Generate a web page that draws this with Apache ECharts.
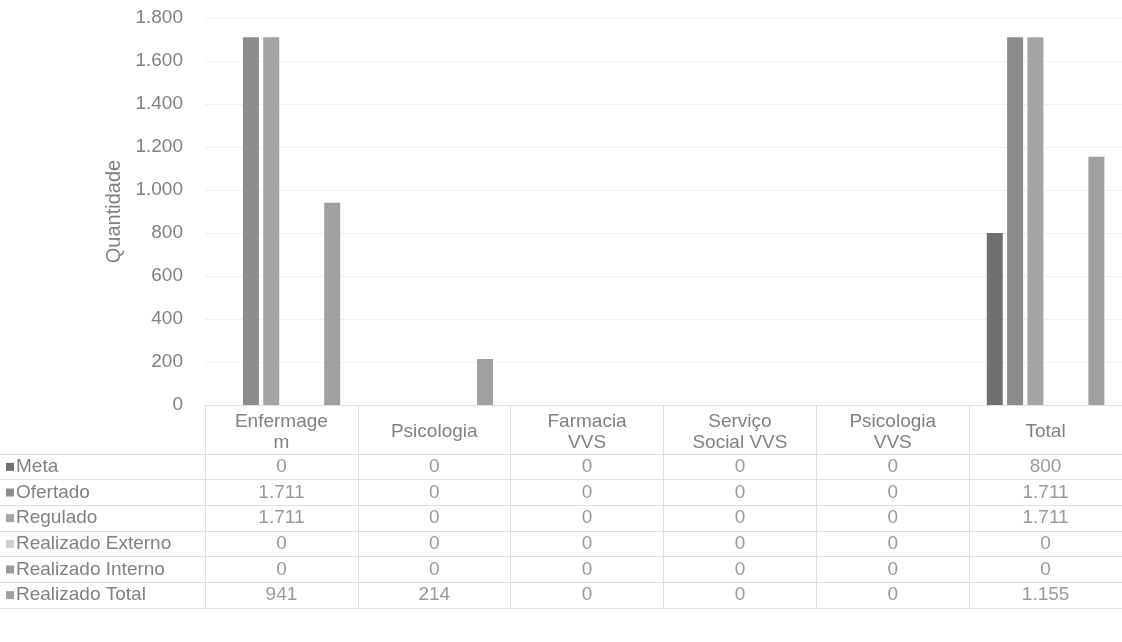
<!DOCTYPE html>
<html>
<head>
<meta charset="utf-8">
<script src="https://cdn.jsdelivr.net/npm/echarts@6/dist/echarts.min.js"></script>
<style>
html,body{margin:0;padding:0;background:#fff;}
#chart{width:1122px;height:642px;}
</style>
</head>
<body>
<div id="chart"></div>
<script>
// ---- data ----
const categories = ['Enfermagem', 'Psicologia', 'Farmacia VVS', 'Serviço Social VVS', 'Psicologia VVS', 'Total'];
const headerLabels = ['Enfermage\nm', 'Psicologia', 'Farmacia\nVVS', 'Serviço\nSocial VVS', 'Psicologia\nVVS', 'Total'];
const seriesNames = ['Meta', 'Ofertado', 'Regulado', 'Realizado Externo', 'Realizado Interno', 'Realizado Total'];
const meta = [0, 0, 0, 0, 0, 800];
const ofertado = [1711, 0, 0, 0, 0, 1711];
const regulado = [1711, 0, 0, 0, 0, 1711];
const realizadoExterno = [0, 0, 0, 0, 0, 0];
const realizadoInterno = [0, 0, 0, 0, 0, 0];
const realizadoTotal = [941, 214, 0, 0, 0, 1155];
const yMin = 0, yMax = 1800, yStep = 200;
const yTitle = 'Quantidade';

const seriesValues = [meta, ofertado, regulado, realizadoExterno, realizadoInterno, realizadoTotal];
const colors = ['#707070', '#8c8c8c', '#a4a4a4', '#cfcfcf', '#999999', '#a0a0a0'];

function fmt(n) {
  return String(n).replace(/\B(?=(\d{3})+(?!\d))/g, '.');
}

const FONT = 'Liberation Sans, Arial, sans-serif';
const TXT = '#818181';
const BORDER = '#e0e0e0';
const FS = 19;
const GRID_LEFT = 205, GRID_W = 924;

const tableData = [];
seriesValues.forEach((vals, r) => vals.forEach((v, c) => tableData.push([c, r, v])));

const rich = {t: {fontSize: FS, color: TXT, fontFamily: FONT, padding: [0, 0, 0, 2]}};
colors.forEach((col, i) => { rich['i' + i] = {backgroundColor: col, width: 8, height: 8}; });

const chart = echarts.init(document.getElementById('chart'), null, {renderer: 'canvas'});
chart.setOption({
  animation: false,
  backgroundColor: '#fff',
  textStyle: {fontFamily: FONT},
  grid: [
    {left: GRID_LEFT, top: 18, width: GRID_W, height: 387},
    {left: GRID_LEFT, top: 454, width: GRID_W, height: 154}
  ],
  xAxis: [
    {
      type: 'category', gridIndex: 0, data: headerLabels,
      axisLine: {show: true, lineStyle: {color: BORDER}},
      axisTick: {show: true, length: 49, lineStyle: {color: BORDER}},
      axisLabel: {color: TXT, fontSize: FS, fontFamily: FONT, margin: 27, verticalAlign: 'middle', lineHeight: 21, interval: 0}
    },
    {
      type: 'category', gridIndex: 1, data: categories,
      axisLine: {show: false}, axisTick: {show: false}, axisLabel: {show: false},
      splitLine: {show: true, interval: 0, lineStyle: {color: BORDER}}
    }
  ],
  yAxis: [
    {
      type: 'value', gridIndex: 0, min: yMin, max: yMax, interval: yStep,
      name: yTitle, nameLocation: 'middle', nameGap: 81, nameRotate: 90,
      nameTextStyle: {color: TXT, fontSize: 20, fontFamily: FONT},
      axisLine: {show: false}, axisTick: {show: false},
      axisLabel: {color: TXT, fontSize: FS, fontFamily: FONT, margin: 22, formatter: v => fmt(v)},
      splitLine: {show: true, lineStyle: {color: '#f0f0f0'}}
    },
    {
      type: 'category', gridIndex: 1, data: seriesNames, inverse: true,
      axisLine: {show: true, lineStyle: {color: BORDER}},
      axisTick: {show: true, length: 205, lineStyle: {color: BORDER}},
      splitLine: {show: true, interval: 0, lineStyle: {color: BORDER}},
      axisLabel: {
        interval: 0, align: 'left', margin: 199, rich: rich,
        formatter: (v, i) => '{i' + i + '|}{t|' + v + '}'
      }
    }
  ],
  series: seriesNames.map((name, i) => ({
    name: name, type: 'bar', xAxisIndex: 0, yAxisIndex: 0,
    data: seriesValues[i], barWidth: 16, barGap: '27%',
    itemStyle: {color: colors[i]}
  })).concat([{
    type: 'scatter', xAxisIndex: 1, yAxisIndex: 1, data: tableData,
    symbolSize: 1, itemStyle: {color: 'rgba(0,0,0,0)'}, silent: true,
    label: {show: true, position: 'inside', color: TXT, fontSize: FS, fontFamily: FONT,
      formatter: p => fmt(p.value[2])}
  }])
});
</script>
</body>
</html>
